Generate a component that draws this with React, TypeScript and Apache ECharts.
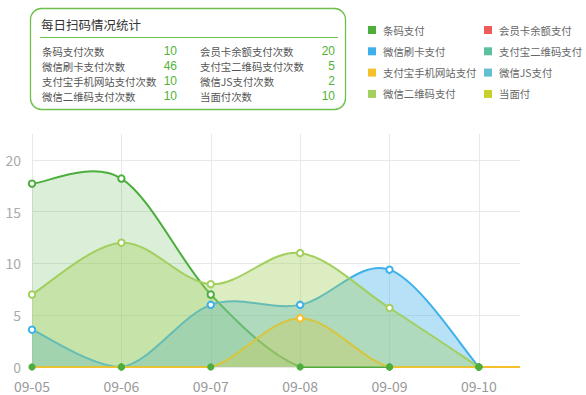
import React, { useEffect, useRef } from "react";
import * as echarts from "echarts";

const categories = ["09-05", "09-06", "09-07", "09-08", "09-09", "09-10"];
const seriesNames = [
  "条码支付",
  "会员卡余额支付",
  "微信刷卡支付",
  "支付宝二维码支付",
  "支付宝手机网站支付",
  "微信JS支付",
  "微信二维码支付",
  "当面付",
];
const seriesColors = [
  "#4cae3c",
  "#ee5b5b",
  "#3eb1ea",
  "#5cbf9f",
  "#f6c02c",
  "#62c0d0",
  "#a2cf5e",
  "#c6d12b",
];
const tiaomaValues = [17.7, 18.2, 7, 0, 0, 0];
const huiyuankaValues: number[] = [];
const weixinShuakaValues = [3.6, 0, 6, 6, 9.4, 0];
const zfbErweiValues: number[] = [];
const zfbShoujiValues = [0, 0, 0, 4.7, 0, 0];
const weixinJsValues: number[] = [];
const weixinErweiValues = [7, 12, 8, 11, 5.7, 0];
const dangmianValues: number[] = [];
const seriesValues = [
  tiaomaValues,
  huiyuankaValues,
  weixinShuakaValues,
  zfbErweiValues,
  zfbShoujiValues,
  weixinJsValues,
  weixinErweiValues,
  dangmianValues,
];
const areaOpacity = [0.2, 0.3, 0.38, 0.3, 0.3, 0.3, 0.38, 0.3];
// x axis extends a little past the last day; 支付宝手机网站支付 stays at 0 up to the edge
const xAxisMax = 5.46;
const zfbShoujiTail = 0;

const yTicks = [0, 5, 10, 15, 20];
const yMax = 22.5;

const panelTitle = "每日扫码情况统计";
const statLabelsLeft = ["条码支付次数", "微信刷卡支付次数", "支付宝手机网站支付次数", "微信二维码支付次数"];
const statValuesLeft = [10, 46, 10, 10];
const statLabelsRight = ["会员卡余额支付次数", "支付宝二维码支付次数", "微信JS支付次数", "当面付次数"];
const statValuesRight = [20, 5, 2, 10];

const FONT = "'Noto Sans CJK SC', 'Noto Sans', sans-serif";
const NUM_FONT = "'Liberation Sans', 'DejaVu Sans', sans-serif";
const zeroDotColor = "#4cae3c";

function rgba(hex: string, a: number) {
  const n = parseInt(hex.slice(1), 16);
  return `rgba(${(n >> 16) & 255},${(n >> 8) & 255},${n & 255},${a})`;
}

function seriesPoints(si: number): number[][] {
  const pts = seriesValues[si].map((v, i) => [i, v]);
  if (si === 4) pts.push([xAxisMax, zfbShoujiTail]);
  return pts;
}

export default function App() {
  const ref = useRef<HTMLDivElement>(null);
  useEffect(() => {
    if (!ref.current) return;
    const chart = echarts.init(ref.current, null, { renderer: "svg" });

    const series = seriesNames.map((name, si) => {
      const color = seriesColors[si];
      const pts = seriesPoints(si);
      return {
        name,
        type: "custom",
        coordinateSystem: "cartesian2d",
        color,
        itemStyle: { color },
        data: pts,
        encode: { x: 0, y: 1 },
        silent: true,
        renderItem: (params: any, api: any) => {
          if (params.dataIndex !== 0 || pts.length === 0) return null;
          const n = pts.length;
          // Catmull-Rom spline in data space, control points kept above the axis minimum
          const p0px = api.coord(pts[0]);
          let lineD = `M${p0px[0]},${p0px[1]}`;
          for (let i = 0; i < n - 1; i++) {
            const a = pts[i === 0 ? 0 : i - 1];
            const b = pts[i];
            const c = pts[i + 1];
            const d = pts[i + 2 > n - 1 ? n - 1 : i + 2];
            const c1 = [b[0] + (c[0] - a[0]) / 6, Math.max(0, b[1] + (c[1] - a[1]) / 6)];
            const c2 = [c[0] - (d[0] - b[0]) / 6, Math.max(0, c[1] - (d[1] - b[1]) / 6)];
            const q1 = api.coord(c1);
            const q2 = api.coord(c2);
            const q3 = api.coord(c);
            lineD += ` C${q1[0]},${q1[1]} ${q2[0]},${q2[1]} ${q3[0]},${q3[1]}`;
          }
          const base0 = api.coord([pts[0][0], 0]);
          const baseN = api.coord([pts[n - 1][0], 0]);
          const areaD = `${lineD} L${baseN[0]},${baseN[1]} L${base0[0]},${base0[1]} Z`;
          const children: any[] = [
            {
              type: "path",
              shape: { pathData: areaD },
              style: { fill: rgba(color, areaOpacity[si]), stroke: null },
              z2: si * 2,
            },
            {
              type: "path",
              shape: { pathData: lineD },
              style: { fill: null, stroke: color, lineWidth: 2 },
              z2: si * 2 + 1,
            },
          ];
          seriesValues[si].forEach((v, i) => {
            const p = api.coord([i, v]);
            if (v === 0) {
              children.push({
                type: "circle",
                shape: { cx: p[0], cy: p[1], r: 3.6 },
                style: { fill: zeroDotColor, stroke: null },
                z2: 100 + si,
              });
            } else {
              children.push({
                type: "circle",
                shape: { cx: p[0], cy: p[1], r: 3.2 },
                style: { fill: "#fff", stroke: color, lineWidth: 2 },
                z2: 100 + si,
              });
            }
          });
          return { type: "group", children };
        },
      };
    });

    const graphicChildren: any[] = [
      {
        type: "rect",
        shape: { x: 30.5, y: 8.5, width: 315, height: 101, r: 11 },
        style: { fill: "#fff", stroke: "#6cc04a", lineWidth: 1.3 },
      },
      {
        type: "text",
        x: 41,
        y: 24,
        style: {
          text: panelTitle,
          fill: "#333",
          font: `12.5px ${FONT}`,
          lineHeight: 14,
          verticalAlign: "middle",
          align: "left",
        },
      },
      {
        type: "line",
        shape: { x1: 40, y1: 37.5, x2: 338, y2: 37.5 },
        style: { stroke: "#6cc04a", lineWidth: 1 },
      },
    ];
    const rowY = [51, 66, 81, 96];
    const addRow = (lab: string, val: number, y: number, lx: number, vx: number) => {
      graphicChildren.push({
        type: "text",
        x: lx,
        y,
        style: { text: lab, fill: "#555", font: `10.4px ${FONT}`, lineHeight: 12, verticalAlign: "middle", align: "left" },
      });
      graphicChildren.push({
        type: "text",
        x: vx,
        y,
        style: { text: String(val), fill: "#52b236", font: `12px ${NUM_FONT}`, lineHeight: 12, verticalAlign: "middle", align: "right" },
      });
    };
    statLabelsLeft.forEach((lab, i) => addRow(lab, statValuesLeft[i], rowY[i], 42, 177));
    statLabelsRight.forEach((lab, i) => addRow(lab, statValuesRight[i], rowY[i], 200, 335));

    const legendCommon = {
      orient: "vertical",
      icon: "rect",
      itemWidth: 8,
      itemHeight: 8,
      itemGap: 9.3,
      top: 24,
      itemStyle: { borderWidth: 0 },
      textStyle: { color: "#666", fontSize: 10.4, fontFamily: FONT, lineHeight: 12, padding: [0, 0, 0, 2] },
      padding: 0,
    };

    chart.setOption({
      animation: false,
      textStyle: { fontFamily: FONT },
      legend: [
        { ...legendCommon, left: 368, data: [seriesNames[0], seriesNames[2], seriesNames[4], seriesNames[6]] },
        { ...legendCommon, left: 484, data: [seriesNames[1], seriesNames[3], seriesNames[5], seriesNames[7]] },
      ],
      grid: { left: 32, right: 66, top: 134, bottom: 28, containLabel: false },
      xAxis: {
        type: "value",
        min: 0,
        max: xAxisMax,
        interval: 1,
        axisLine: { show: false },
        axisTick: { show: false },
        axisLabel: {
          color: "#999",
          fontSize: 14,
          lineHeight: 14,
          margin: 12,
          showMaxLabel: false,
          formatter: (v: number) => (Number.isInteger(v) && categories[v] ? categories[v] : ""),
        },
        splitLine: { show: true, showMaxLine: false, lineStyle: { color: "#e8e8e8", width: 1 } },
      },
      yAxis: {
        type: "value",
        min: 0,
        max: yMax,
        interval: 5,
        axisLine: { show: false },
        axisTick: { show: false },
        axisLabel: {
          color: "#aaa",
          fontSize: 14,
          lineHeight: 14,
          margin: 11,
          showMaxLabel: false,
          formatter: (v: number) => (yTicks.includes(v) ? String(v) : ""),
        },
        splitLine: { show: true, showMaxLine: false, lineStyle: { color: "#e8e8e8", width: 1 } },
      },
      graphic: [{ type: "group", children: graphicChildren }],
      series,
    });
    return () => chart.dispose();
  }, []);
  return (
    <div
      ref={ref}
      style={{ position: "fixed", left: 0, top: 0, width: 586, height: 395, background: "#fff" }}
    />
  );
}
